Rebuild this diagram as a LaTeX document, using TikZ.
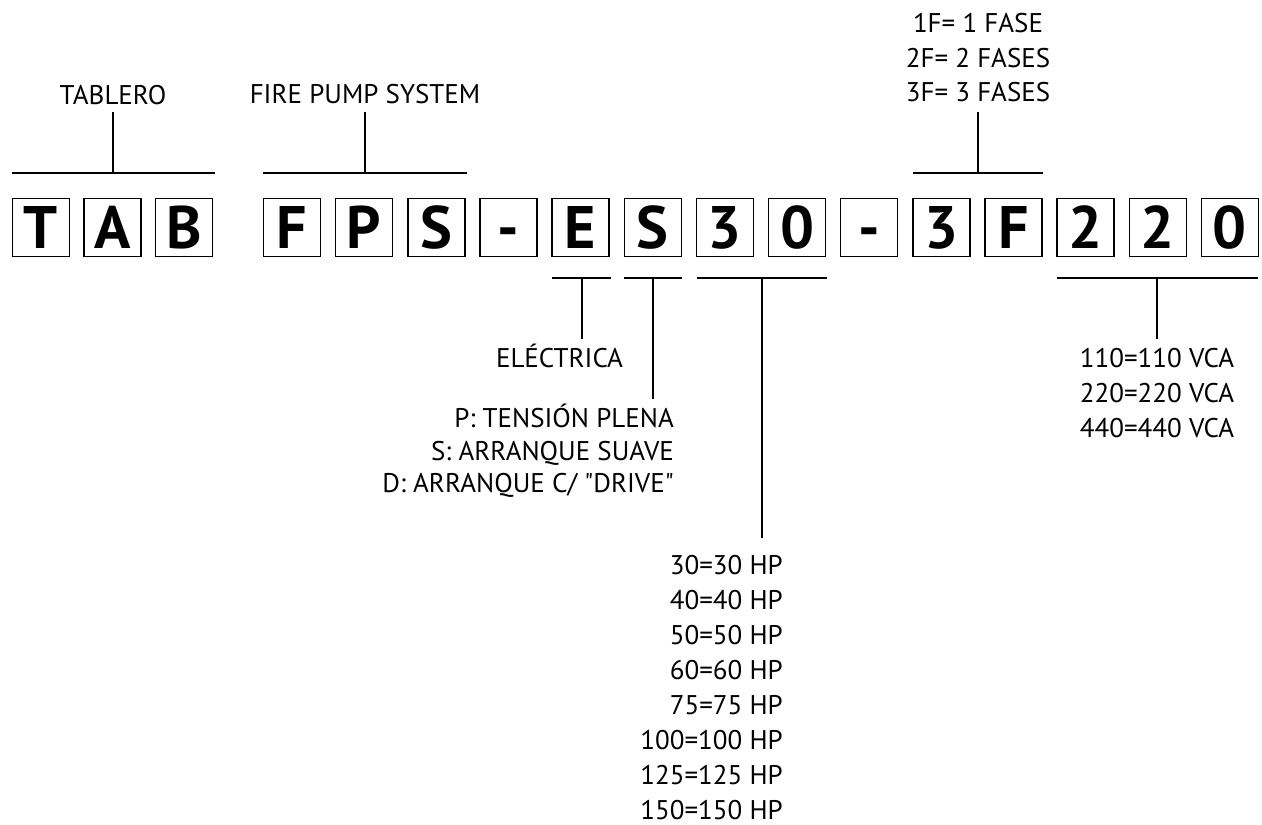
\documentclass[tikz,border=0pt]{standalone}
\usepackage{fontspec}
\setmainfont{PT Sans}
\begin{document}
\begin{tikzpicture}[x=1pt,y=-1pt,
  box/.style={draw,line width=1.4pt,minimum width=57pt,minimum height=58pt,inner sep=0pt,
    text height=42pt,text depth=0pt,
    font=\fontsize{60}{60}\selectfont\bfseries},
  lbl/.style={inner sep=0pt,font=\fontsize{27}{33}\selectfont},
  ln/.style={line width=1.4pt}]
\useasboundingbox (0,0) rectangle (1262,825);
% code boxes
\node[box] (b1) at (41,227.5) {T};
\node[box] (b2) at (112.5,227.5) {A};
\node[box] (b3) at (184,227.5) {B};
\node[box] (b4) at (292,227.5) {F};
\node[box] (b5) at (364.15,227.5) {P};
\node[box] (b6) at (436.3,227.5) {S};
\node[box] (b7) at (508.45,227.5) {-};
\node[box] (b8) at (580.6,227.5) {E};
\node[box] (b9) at (652.75,227.5) {S};
\node[box] (b10) at (724.9,227.5) {3};
\node[box] (b11) at (797.05,227.5) {0};
\node[box] (b12) at (869.2,227.5) {-};
\node[box] (b13) at (941.35,227.5) {3};
\node[box] (b14) at (1013.5,227.5) {F};
\node[box] (b15) at (1085.65,227.5) {2};
\node[box] (b16) at (1157.8,227.5) {2};
\node[box] (b17) at (1229.95,227.5) {0};

% top labels
\node[lbl,anchor=base] (tab) at (113,104) {TABLERO};
\node[lbl,anchor=base] (fps) at (365,103.5) {FIRE PUMP SYSTEM};
\node[lbl,anchor=base] (f1) at (978,32) {1F= 1 FASE};
\node[lbl,anchor=base] (f2) at (978,67) {2F= 2 FASES};
\node[lbl,anchor=base] (f3) at (978,101) {3F= 3 FASES};

% bottom labels
\node[lbl,anchor=base] (ele) at (559.5,367) {ELÉCTRICA};
\node[lbl,anchor=base east] (arr1) at (674,427.5) {P: TENSIÓN PLENA};
\node[lbl,anchor=base east] (arr2) at (674,460) {S: ARRANQUE SUAVE};
\node[lbl,anchor=base east] (arr3) at (674,492.5) {D: ARRANQUE C/ \textquotedbl DRIVE\textquotedbl};
\foreach \v [count=\i from 0] in {30,40,50,60,75,100,125,150}
  \node[lbl,anchor=base east] (hp\v) at (783,574+35.1*\i) {\v=\v\ HP};
\node[lbl,anchor=base] (vca1) at (1157,367) {110=110 VCA};
\node[lbl,anchor=base] (vca2) at (1157,402) {220=220 VCA};
\node[lbl,anchor=base] (vca3) at (1157,437) {440=440 VCA};

% bracket coordinates
\coordinate (tabL) at (12,173);   \coordinate (tabR) at (215,173);
\coordinate (tabM) at (113,173);  \coordinate (tabT) at (113,112);
\coordinate (fpsL) at (263,173);  \coordinate (fpsR) at (467,173);
\coordinate (fpsM) at (365,173);  \coordinate (fpsT) at (365,112);
\coordinate (phL) at (913,173);   \coordinate (phR) at (1043,173);
\coordinate (phM) at (978,173);   \coordinate (phT) at (978,112);
\coordinate (eL) at (552,278);    \coordinate (eR) at (611,278);
\coordinate (eM) at (582,278);    \coordinate (eB) at (582,339);
\coordinate (sL) at (624,278);    \coordinate (sR) at (682,278);
\coordinate (sM) at (653,278);    \coordinate (sB) at (653,399);
\coordinate (hL) at (697,278);    \coordinate (hR) at (827,278);
\coordinate (hM) at (762,278);    \coordinate (hB) at (762,538);
\coordinate (vL) at (1057,278);   \coordinate (vR) at (1258,278);
\coordinate (vM) at (1157,278);   \coordinate (vB) at (1157,339);

% brackets
\draw[ln] (tabL) -- (tabR); \draw[ln] (tabM) -- (tabT);
\draw[ln] (fpsL) -- (fpsR); \draw[ln] (fpsM) -- (fpsT);
\draw[ln] (phL) -- (phR);   \draw[ln] (phM) -- (phT);
\draw[ln] (eL) -- (eR);     \draw[ln] (eM) -- (eB);
\draw[ln] (sL) -- (sR);     \draw[ln] (sM) -- (sB);
\draw[ln] (hL) -- (hR);     \draw[ln] (hM) -- (hB);
\draw[ln] (vL) -- (vR);     \draw[ln] (vM) -- (vB);
\end{tikzpicture}
\end{document}
